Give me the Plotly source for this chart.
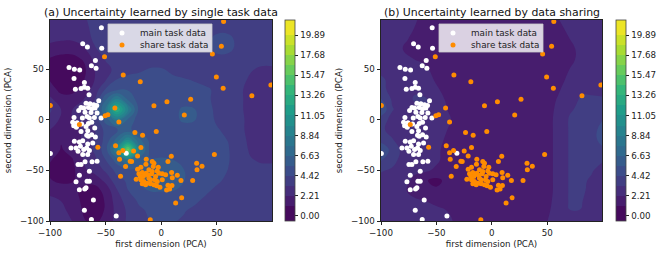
import plotly.graph_objects as go
from plotly.colors import sample_colorscale

# ---------------- data ----------------
grid_x = list(range(-100, 101, 10))
grid_y = list(range(-100, 101, 10))

# uncertainty grids, rows listed from top (y=100) to bottom (y=-100), columns x=-100..100
z_single_rows = [
    [3.0,3.0,3.0,3.2,3.6,3.8,3.8,3.8,3.8,3.8,3.8,3.8,3.8,3.8,3.8,3.9,3.9,3.8,3.8,3.8,3.8],
    [2.8,2.8,2.8,3.0,3.6,3.8,3.8,3.8,3.8,3.8,3.8,3.8,3.8,3.8,3.8,4.0,4.0,3.8,3.8,3.8,3.8],
    [2.5,2.4,2.4,2.8,3.5,3.8,3.8,3.8,3.8,3.8,3.8,3.8,3.8,3.8,4.0,4.8,4.8,4.0,3.8,3.8,3.8],
    [1.8,1.5,1.5,2.0,3.2,3.8,3.8,3.8,3.8,3.8,3.8,3.8,3.8,3.8,4.0,4.8,4.8,4.0,3.8,3.8,3.8],
    [1.0,0.8,0.8,1.2,2.5,3.4,3.8,3.8,3.8,3.8,3.8,3.8,3.8,3.8,3.8,4.0,3.9,3.8,3.7,3.6,3.6],
    [0.8,0.5,0.5,0.8,2.2,3.0,3.6,3.9,4.2,4.5,4.5,4.2,3.9,3.8,3.8,3.8,3.8,3.7,3.4,3.2,3.2],
    [1.0,0.6,0.6,1.0,2.2,3.2,4.4,4.8,4.8,4.8,4.8,4.6,4.5,4.3,4.0,3.8,3.8,3.6,3.2,3.0,3.0],
    [1.5,0.8,0.8,1.5,2.6,4.5,5.2,5.4,4.8,4.8,4.8,4.8,4.8,4.8,4.6,4.2,3.8,3.5,3.0,2.9,2.9],
    [2.5,1.5,1.5,2.2,3.2,6.5,9.0,6.5,5.0,4.8,4.8,4.8,4.8,4.8,4.6,4.2,3.8,3.5,3.0,2.9,2.9],
    [3.5,2.2,2.2,2.5,4.2,8.0,13.5,9.0,5.2,4.8,4.8,5.0,5.8,5.6,4.8,4.2,3.8,3.5,3.0,2.9,2.9],
    [3.0,2.0,2.2,2.5,3.6,6.0,8.5,6.5,4.9,4.8,4.8,5.0,5.8,5.6,4.8,4.3,4.0,3.6,3.0,2.9,2.9],
    [2.2,1.5,1.8,2.4,3.2,4.8,5.5,5.8,5.0,4.8,4.8,4.8,4.8,4.8,4.8,4.5,4.2,3.6,3.0,2.9,2.9],
    [2.0,1.2,1.5,2.4,3.3,4.8,7.0,10.0,7.0,5.2,4.8,4.8,4.8,4.8,4.8,4.6,4.4,3.7,3.1,3.0,3.0],
    [2.0,1.0,1.5,2.4,3.5,5.0,9.0,16.5,8.5,5.2,4.8,4.8,4.8,4.8,4.8,4.8,4.5,3.8,3.2,3.0,3.0],
    [1.2,0.6,1.0,2.2,3.0,4.4,6.0,8.0,6.0,5.6,5.8,5.6,5.0,4.8,4.8,4.8,4.5,3.9,3.4,3.2,3.2],
    [0.8,0.4,0.8,2.0,2.6,3.5,4.8,5.2,5.6,5.8,6.0,5.8,5.6,4.8,4.8,4.8,4.4,3.9,3.6,3.6,3.6],
    [1.2,0.8,1.0,1.5,1.5,2.5,4.0,4.6,5.6,6.0,6.0,5.8,5.6,4.8,4.8,4.6,4.2,3.8,3.8,3.8,3.8],
    [2.0,1.8,1.5,0.8,0.6,1.5,3.2,4.4,5.0,5.6,5.6,5.6,5.0,4.8,4.6,4.2,3.9,3.8,3.8,3.8,3.8],
    [2.4,2.2,1.8,0.8,0.5,1.2,2.8,3.8,4.6,4.8,4.8,4.8,4.8,4.6,4.2,3.9,3.8,3.8,3.8,3.8,3.8],
    [2.6,2.4,2.0,1.0,0.6,1.2,2.6,3.5,4.2,4.6,4.6,4.6,4.5,4.2,3.9,3.8,3.8,3.8,3.8,3.8,3.8],
    [2.8,2.6,2.2,1.2,0.8,1.5,2.6,3.5,4.0,4.5,4.5,4.5,4.3,4.0,3.8,3.8,3.8,3.8,3.8,3.8,3.8],
]

z_shared_rows = [
    [2.8,2.8,2.6,2.4,1.8,1.6,1.6,1.6,1.6,1.6,1.6,1.6,1.6,1.6,1.6,1.8,2.2,2.5,2.6,2.8,2.8],
    [2.8,2.7,2.5,2.2,1.7,1.6,1.6,1.6,1.6,1.6,1.6,1.6,1.6,1.6,1.6,1.7,2.0,2.4,2.6,2.8,2.8],
    [2.7,2.6,2.4,2.0,1.6,1.5,1.5,1.5,1.5,1.5,1.5,1.5,1.5,1.5,1.5,1.6,1.8,2.2,2.5,2.6,2.7],
    [2.6,2.5,2.2,1.8,1.6,1.5,1.5,1.5,1.5,1.5,1.5,1.5,1.5,1.5,1.5,1.6,1.7,2.0,2.4,2.5,2.6],
    [2.5,2.4,2.3,2.2,2.0,1.6,1.5,1.5,1.5,1.5,1.5,1.5,1.5,1.5,1.5,1.6,1.7,2.0,2.4,2.6,2.6],
    [3.0,2.8,2.6,2.7,2.4,1.8,1.5,1.5,1.5,1.5,1.5,1.5,1.5,1.5,1.5,1.6,1.8,2.2,2.6,2.7,2.7],
    [3.5,3.0,2.8,3.0,2.8,2.0,1.6,1.5,1.5,1.5,1.5,1.5,1.5,1.5,1.5,1.6,1.9,2.4,2.9,3.0,2.9],
    [3.6,3.0,2.8,3.2,3.0,2.4,1.7,1.5,1.5,1.5,1.5,1.5,1.5,1.5,1.5,1.7,2.1,2.6,3.2,3.2,3.1],
    [4.5,3.2,2.8,3.4,3.4,2.8,2.0,1.6,1.5,1.5,1.5,1.5,1.5,1.5,1.6,1.8,2.3,2.9,3.4,3.4,3.4],
    [5.5,3.4,2.8,3.0,3.4,2.8,2.2,1.7,1.5,1.5,1.5,1.5,1.5,1.5,1.6,1.9,2.4,3.2,3.5,3.6,3.8],
    [3.8,3.0,2.6,2.6,3.0,3.0,2.4,1.8,1.5,1.5,1.5,1.5,1.5,1.5,1.6,1.9,2.5,3.4,3.6,3.8,4.4],
    [3.5,3.0,2.6,2.6,3.2,3.0,2.2,1.7,1.5,1.5,1.5,1.5,1.5,1.5,1.6,1.9,2.5,3.4,3.7,4.0,4.8],
    [4.0,3.4,2.8,2.6,2.8,2.6,2.0,1.6,1.5,1.5,1.5,1.5,1.5,1.5,1.6,1.9,2.5,3.4,3.7,4.0,4.8],
    [5.5,4.0,3.0,2.6,2.6,2.4,1.9,1.6,1.5,1.5,1.5,1.5,1.5,1.5,1.6,1.9,2.5,3.4,3.6,3.8,4.2],
    [4.5,3.6,3.0,2.6,2.6,2.4,1.8,1.5,1.5,1.5,1.5,1.5,1.5,1.5,1.6,1.9,2.5,3.4,3.6,3.5,3.4],
    [3.4,3.2,2.8,2.4,2.4,2.0,1.6,1.5,1.5,1.5,1.5,1.5,1.5,1.5,1.6,1.9,2.5,3.4,3.6,3.4,3.0],
    [3.0,2.8,2.6,2.0,1.2,0.8,1.4,1.5,1.5,1.5,1.5,1.5,1.5,1.5,1.6,1.9,2.5,3.4,3.5,3.2,2.9],
    [2.8,2.6,2.4,1.8,1.2,1.3,1.5,1.5,1.5,1.5,1.5,1.5,1.5,1.5,1.6,1.9,2.5,3.4,3.5,3.1,2.9],
    [2.8,2.7,2.6,2.4,2.2,2.0,1.7,1.5,1.5,1.5,1.5,1.5,1.5,1.5,1.6,2.0,2.5,3.4,3.4,3.0,2.8],
    [2.9,2.8,2.7,2.6,2.5,2.4,2.2,1.8,1.6,1.5,1.5,1.5,1.5,1.6,1.8,2.1,2.5,3.3,3.3,2.9,2.8],
    [3.0,2.9,2.8,2.7,2.6,2.5,2.4,2.0,1.7,1.6,1.6,1.6,1.6,1.7,2.0,2.2,2.5,3.2,3.2,2.9,2.8],
]

main_x = [-53.8,-70.6,-66.4,-53.5,-59.2,-62.8,-58.6,-82.9,-78.1,-73.3,-78.4,-69.1,-72.1,-69.1,-66.1,
          -77.2,-64.9,-56.2,-67.6,-64.0,-60.7,-58.0,-72.1,-69.7,-65.5,-62.5,-59.5,-74.2,-68.5,-63.1,
          -57.7,-78.4,-70.9,-66.7,-64.6,-60.1,-54.1,-79.6,-75.7,-71.5,-65.5,-62.5,-78.7,-76.3,-67.6,
          -59.8,-72.1,-66.1,-67.0,-65.5,-62.5,-59.2,-78.1,-73.6,-70.6,-66.1,-61.6,-81.1,-76.6,-72.7,
          -69.7,-67.0,-64.6,-74.8,-70.6,-66.1,-74.8,-72.1,-68.5,-62.2,-57.7,-64.6,-73.6,-66.7,-64.6,
          -76.6,-67.6,-73.6,-68.8,-61.0,-69.1,-40.5,-31.5,-99.7,-62.8]
main_y = [90.8,75.1,71.8,70.5,58.4,53.4,50.8,51.5,49.8,49.2,40.7,36.7,30.8,32.1,31.1,
          30.2,24.6,18.7,16.4,15.7,14.8,14.1,12.1,11.5,12.1,10.8,11.5,9.2,7.5,7.2,
          6.6,2.3,1.6,3.3,1.6,2.3,1.6,-2.6,-3.0,-4.3,-3.6,-2.6,-5.9,-7.5,-6.6,
          -8.2,-11.5,-10.8,-15.4,-16.4,-14.8,-17.0,-21.3,-22.0,-20.7,-23.9,-23.0,-27.9,-27.9,-26.2,
          -29.5,-27.9,-30.5,-31.1,-34.4,-34.4,-44.3,-44.3,-41.6,-41.6,-41.0,-50.8,-54.8,-60.7,-60.7,
          -61.3,-67.2,-69.2,-68.5,-79.3,-89.5,-95.1,-33.1,-33.4,-98.4]

share_x = [54.0,45.9,-51.0,-34.2,-18.9,49.5,55.6,81.4,26.4,5.1,-6.6,20.7,-41.7,-48.0,-50.5,
           -38.1,-73.6,-4.5,-23.7,-16.8,-57.0,56.0,98.5,-99.7,
           -41.1,-18.3,-34.5,-38.1,-24.9,-21.3,-13.5,-37.5,-27.9,-26.7,9.0,6.0,-8.1,-6.6,-13.8,
           -7.2,-2.7,-18.3,-21.3,-32.1,31.8,36.6,32.1,47.7,-11.1,-17.1,-20.1,-13.5,-8.1,-3.6,
           -2.1,0.9,3.9,9.3,14.4,9.9,-36.6,-22.5,-18.3,-15.6,-12.6,-9.6,-6.6,-4.2,-1.2,6.0,
           9.6,4.8,7.5,-16.2,-11.1,-5.1,17.7,28.2,18.3,12.9,-9.9,
           -14.7,-11.7,-8.7,-5.7,-14.1,-17.1,-9.6,-3.6,0.9,-18.9]
share_y = [72.5,64.9,62.3,44.3,37.4,42.3,31.1,23.6,20.3,17.7,13.8,4.6,11.5,4.9,3.9,
           -2.3,-4.6,-11.5,-12.5,-15.4,-27.2,97.0,34.4,14.0,
           -25.6,-27.5,-30.5,-32.5,-30.8,-35.7,-39.0,-39.0,-41.0,-41.3,-36.0,-41.3,-41.3,-43.0,-43.9,
           -46.2,-46.9,-46.9,-48.9,-46.2,-43.0,-45.9,-49.5,-34.4,-49.5,-52.1,-53.4,-52.8,-51.1,-50.5,
           -52.8,-53.4,-54.4,-52.1,-54.8,-57.4,-55.7,-58.7,-59.3,-61.0,-62.6,-63.3,-64.3,-65.2,-66.6,-64.6,
           -64.9,-69.5,-68.5,-56.1,-57.7,-56.1,-60.0,-60.0,-77.0,-82.3,-98.7,
           -54.1,-54.8,-53.4,-59.3,-64.3,-63.3,-59.3,-61.0,-59.3,-56.1]

panel_titles = ["(a) Uncertainty learned by single task data",
                "(b) Uncertainty learned by data sharing"]
series_names = ["main task data", "share task data"]
cbar_ticks = [0.00, 2.21, 4.42, 6.63, 8.84, 11.05, 13.26, 15.47, 17.68, 19.89]
axis_ticks = [-100, -50, 0, 50]

# ---------------- styling ----------------
W, H = 665, 255
LEVEL_STEP = 1.105
N_BANDS = 19
FONT = "DejaVu Sans"
ORANGE = "#ff8c00"


def px(x):
    return x / W


def py(y):
    return 1 - y / H


band_cols = sample_colorscale("Viridis", [(i + 0.5) / N_BANDS for i in range(N_BANDS)])
n_levels = N_BANDS + 1
cscale = [[0.0, band_cols[0]]]
for i, c in enumerate(band_cols):
    cscale.append([(i + 1) / (n_levels), c])
cscale.append([1.0, band_cols[-1]])

panels = [
    dict(z=z_single_rows[::-1], plot_l=50, plot_r=272, cb_l=285),
    dict(z=z_shared_rows[::-1], plot_l=381, plot_r=602, cb_l=616),
]
PLOT_T, PLOT_B = 20, 221

fig = go.Figure()
shapes, annotations = [], []

for k, p in enumerate(panels):
    xa = "x" if k == 0 else "x2"
    ya = "y" if k == 0 else "y2"
    fig.add_trace(go.Contour(
        x=grid_x, y=grid_y, z=p["z"], xaxis=xa, yaxis=ya,
        autocontour=False,
        contours=dict(start=0, end=LEVEL_STEP * N_BANDS, size=LEVEL_STEP,
                      coloring="fill", showlines=False),
        line=dict(width=0, smoothing=1.3),
        colorscale=cscale,
        colorbar=dict(
            x=px(p["cb_l"]), xanchor="left", y=py(PLOT_B), yanchor="bottom",
            len=PLOT_B - PLOT_T, lenmode="pixels", thickness=10, thicknessmode="pixels",
            outlinewidth=0.8, outlinecolor="#444",
            tickmode="array", tickvals=cbar_ticks, ticktext=[f"{v:.2f}" for v in cbar_ticks],
            ticks="outside", ticklen=3.5, tickwidth=0.8, tickcolor="#222",
            tickfont=dict(family=FONT, size=8.7, color="#222"), xpad=0, ypad=0,
        ),
        hoverinfo="skip",
    ))
    fig.add_trace(go.Scatter(x=main_x, y=main_y, mode="markers", xaxis=xa, yaxis=ya,
                             marker=dict(color="white", size=5, line=dict(width=0)),
                             name=series_names[0], showlegend=False, hoverinfo="skip"))
    fig.add_trace(go.Scatter(x=share_x, y=share_y, mode="markers", xaxis=xa, yaxis=ya,
                             marker=dict(color=ORANGE, size=5, line=dict(width=0)),
                             name=series_names[1], showlegend=False, hoverinfo="skip"))

    # manual legend
    l0 = p["plot_l"] + 58
    shapes.append(dict(type="rect", xref="paper", yref="paper",
                       x0=px(l0), x1=px(l0 + 104), y0=py(52), y1=py(24),
                       fillcolor="rgba(255,255,255,0.8)", line=dict(color="#cccccc", width=0.8),
                       layer="above"))
    for j, (col, yy) in enumerate([("white", 33), (ORANGE, 45)]):
        shapes.append(dict(type="circle", xref="paper", yref="paper",
                           xsizemode="pixel", ysizemode="pixel",
                           xanchor=px(l0 + 14), yanchor=py(yy),
                           x0=-2.5, x1=2.5, y0=-2.5, y1=2.5,
                           fillcolor=col, line=dict(width=0), layer="above"))
        annotations.append(dict(text=series_names[j], xref="paper", yref="paper",
                                x=px(l0 + 30), y=py(yy), xanchor="left", yanchor="middle",
                                showarrow=False, font=dict(family=FONT, size=8.8, color="#222")))
    annotations.append(dict(text=panel_titles[k], xref="paper", yref="paper",
                            x=px((p["plot_l"] + p["plot_r"]) / 2), y=py(12),
                            xanchor="center", yanchor="middle", showarrow=False,
                            font=dict(family=FONT, size=10.9, color="#111")))

axis_common = dict(showgrid=False, zeroline=False, showline=True, mirror=True,
                   linecolor="#222", linewidth=0.8, ticks="outside", ticklen=3.5,
                   tickwidth=0.8, tickcolor="#222", tickvals=axis_ticks, automargin=False,
                   tickfont=dict(family=FONT, size=8.7, color="#222"))

fig.update_layout(
    width=W, height=H, margin=dict(l=0, r=0, t=0, b=0, autoexpand=False),
    paper_bgcolor="white", plot_bgcolor="white",
    showlegend=False, hovermode=False,
    shapes=shapes, annotations=annotations,
    xaxis=dict(axis_common, domain=[px(50), px(272)], range=[-100, 99.5], anchor="y",
               title=dict(text="first dimension (PCA)", standoff=4,
                          font=dict(family=FONT, size=8.7, color="#222"))),
    yaxis=dict(axis_common, domain=[py(PLOT_B), py(PLOT_T)], range=[-100, 98.5], anchor="x",
               title=dict(text="second dimension (PCA)", standoff=6,
                          font=dict(family=FONT, size=8.7, color="#222"))),
    xaxis2=dict(axis_common, domain=[px(381), px(602)], range=[-100, 99.5], anchor="y2",
                title=dict(text="first dimension (PCA)", standoff=4,
                           font=dict(family=FONT, size=8.7, color="#222"))),
    yaxis2=dict(axis_common, domain=[py(PLOT_B), py(PLOT_T)], range=[-100, 98.5], anchor="x2",
                title=dict(text="second dimension (PCA)", standoff=6,
                           font=dict(family=FONT, size=8.7, color="#222"))),
)

fig.write_html("out.html", config={"displayModeBar": False},
               post_script="document.body.style.margin='0';")
